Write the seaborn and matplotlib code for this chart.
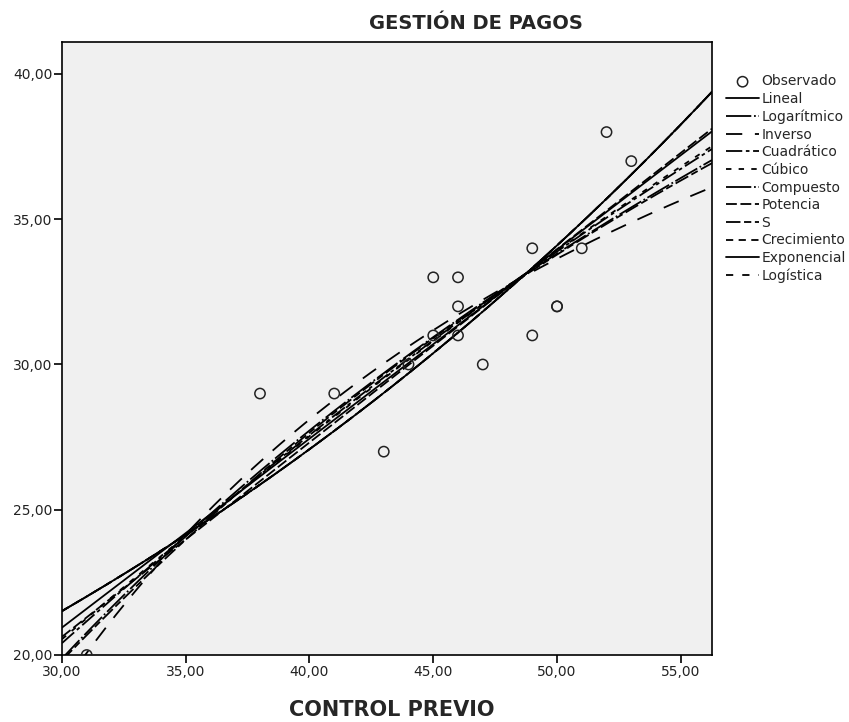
import numpy as np
import pandas as pd
import matplotlib
matplotlib.use("Agg")
import matplotlib.pyplot as plt
import seaborn as sns

control_previo = [31, 38, 41, 43, 44, 45, 45, 46, 46, 46, 47, 49, 49, 50, 50, 51, 52, 53]
gestion_pagos = [20, 29, 29, 27, 30, 31, 33, 33, 32, 31, 30, 34, 31, 32, 32, 34, 38, 37]

model_names = ["Lineal", "Logarítmico", "Inverso", "Cuadrático", "Cúbico", "Compuesto",
               "Potencia", "S", "Crecimiento", "Exponencial", "Logística"]
line_dashes = [(None, None), (14, 1.5, 1, 1.5), (9, 7), (9, 2, 2, 2), (3, 4), (14, 1.5, 1, 1.5),
               (6, 2), (8, 2, 4, 2), (4, 3), (None, None), (4, 5)]

x_range = (30, 56.26)
y_range = (20, 41.1)
y_ticks = [20, 25, 30, 35, 40]
x_ticks = [30, 35, 40, 45, 50, 55]


def fit_curves(x, y, xs):
    x = np.asarray(x, float)
    y = np.asarray(y, float)
    out = {}
    b = np.polyfit(x, y, 1)
    out["Lineal"] = np.polyval(b, xs)
    b = np.polyfit(np.log(x), y, 1)
    out["Logarítmico"] = np.polyval(b, np.log(xs))
    b = np.polyfit(1 / x, y, 1)
    out["Inverso"] = np.polyval(b, 1 / xs)
    b = np.polyfit(x, y, 2)
    out["Cuadrático"] = np.polyval(b, xs)
    # cubic with the collinear x^2 term dropped (as the stats package does)
    A = np.column_stack([np.ones_like(x), x, x ** 3])
    c, *_ = np.linalg.lstsq(A, y, rcond=None)
    out["Cúbico"] = c[0] + c[1] * xs + c[2] * xs ** 3
    b = np.polyfit(x, np.log(y), 1)
    expo = np.exp(np.polyval(b, xs))
    out["Compuesto"] = expo
    b = np.polyfit(np.log(x), np.log(y), 1)
    out["Potencia"] = np.exp(np.polyval(b, np.log(xs)))
    b = np.polyfit(1 / x, np.log(y), 1)
    out["S"] = np.exp(np.polyval(b, 1 / xs))
    out["Crecimiento"] = expo
    out["Exponencial"] = expo
    b = np.polyfit(x, np.log(1 / y), 1)
    out["Logística"] = 1 / np.exp(np.polyval(b, xs))
    return out


def comma_fmt(v, pos=None):
    return f"{v:.2f}".replace(".", ",")


fig = plt.figure(figsize=(8.49, 7.22), dpi=100)
sns.set_style("ticks")
plt.rcParams["font.family"] = ["DejaVu Sans"]

ax = fig.add_axes([0.073, 0.0928, 0.7656, 0.849])
ax.set_facecolor("#f0f0f0")

xs = np.linspace(x_range[0], x_range[1], 300)
curves = fit_curves(control_previo, gestion_pagos, xs)

obs = pd.DataFrame({"x": control_previo, "y": gestion_pagos})
sns.scatterplot(data=obs, x="x", y="y", ax=ax, marker="o", s=55, facecolors="none",
                edgecolor="#222222", linewidth=1.1, label="Observado", zorder=3)

for name, dash in zip(model_names, line_dashes):
    sns.lineplot(x=xs, y=curves[name], ax=ax, color="black", linewidth=1.3,
                 label=name, estimator=None, sort=False)
    line = ax.lines[-1]
    if dash[0] is not None:
        line.set_dashes(dash)

ax.set_xlim(*x_range)
ax.set_ylim(*y_range)
ax.set_xticks(x_ticks)
ax.set_yticks(y_ticks)
ax.xaxis.set_major_formatter(plt.FuncFormatter(comma_fmt))
ax.yaxis.set_major_formatter(plt.FuncFormatter(comma_fmt))
ax.tick_params(direction="out", length=6, width=1.2, labelsize=10, color="black",
               labelcolor="#222222", pad=1)
for sp in ax.spines.values():
    sp.set_color("black")
    sp.set_linewidth(1.2)
ax.set_xlabel("")
ax.set_ylabel("")

fig.text(0.561, 0.968, "GESTIÓN DE PAGOS", ha="center", va="center", fontsize=14, fontweight="bold")
fig.text(0.462, 0.017, "CONTROL PREVIO", ha="center", va="center", fontsize=15, fontweight="bold")

ax.legend(loc="upper left", bbox_to_anchor=(0.855, 0.897), bbox_transform=fig.transFigure,
          frameon=False, fontsize=10, handlelength=2.4, handletextpad=0.15,
          labelspacing=0.26, borderpad=0, borderaxespad=0)

fig.savefig("out.png", dpi=100)
